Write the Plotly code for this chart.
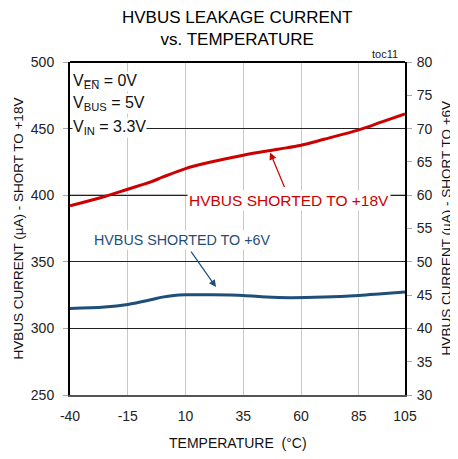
import plotly.graph_objects as go

temp = [-40, -25, -15, -5, 0, 10, 20, 35, 50, 60, 70, 85, 95, 105]
i18 = [392, 399, 404.5, 410, 413.5, 420, 424.5, 430, 434.5, 437.5, 442, 449, 455, 461]
temp6 = [-40, -25, -15, -5, 0, 5, 10, 20, 35, 45, 55, 70, 85, 95, 105]
i6 = [43.0, 43.2, 43.6, 44.3, 44.7, 44.95, 45.05, 45.05, 44.95, 44.7, 44.6, 44.7, 44.95, 45.2, 45.45]

xticks = [-40, -15, 10, 35, 60, 85, 105]
font = "Liberation Sans Narrow, Liberation Sans, Arial, sans-serif"
red = "#cc0000"
blue = "#1f4e79"

fig = go.Figure()
fig.add_trace(go.Scatter(x=temp, y=i18, mode="lines", line=dict(color=red, width=3, shape="spline"), yaxis="y"))
fig.add_trace(go.Scatter(x=temp6, y=i6, mode="lines", line=dict(color=blue, width=3, shape="spline"), yaxis="y2"))

fig.update_layout(
    width=458, height=459,
    margin=dict(l=62, r=61, t=54, b=72),
    paper_bgcolor="white", plot_bgcolor="white",
    showlegend=False,
    font=dict(family=font, color="#222", size=14),
    xaxis=dict(range=[-40, 105], tickvals=xticks, ticktext=[str(v) for v in xticks],
               showgrid=True, gridcolor="#c8c8c8", gridwidth=1, zeroline=False,
               showline=True, linecolor="#555", linewidth=2, mirror=False,
               ticks="outside", ticklen=7, tickcolor="rgba(0,0,0,0)"),
    yaxis=dict(range=[250, 500], dtick=50, showgrid=True, gridcolor="#222", gridwidth=1, zeroline=False,
               showline=True, linecolor="#000", linewidth=2, ticks="outside", ticklen=5, tickcolor="#aaa",
               ticklabelstandoff=6),
    yaxis2=dict(range=[30, 80], dtick=5, overlaying="y", side="right", showgrid=False, zeroline=False,
                showline=True, linecolor="#000", linewidth=2, ticks="outside", ticklen=5, tickcolor="#aaa",
                ticklabelstandoff=2),
)
# top border
fig.add_shape(type="line", xref="paper", yref="paper", x0=0, x1=1, y0=1, y1=1, line=dict(color="#000", width=2))
# 400 gridline is lighter in reference
fig.add_shape(type="line", xref="paper", yref="y", x0=0, x1=1, y0=400, y1=400, layer="below",
              line=dict(color="#777", width=1.5))

# title
fig.add_annotation(xref="paper", yref="paper", x=0.5, y=1.1006, xanchor="center", yanchor="middle",
                   text="HVBUS LEAKAGE CURRENT<br>vs. TEMPERATURE", showarrow=False,
                   font=dict(size=17, color="#000"))
# axis titles
fig.add_annotation(xref="paper", yref="paper", x=0.5, y=-0.144, xanchor="center", yanchor="middle",
                   text="TEMPERATURE  (°C)", showarrow=False, font=dict(size=14, color="#111"))
fig.add_annotation(xref="paper", yref="paper", x=-0.155, y=0.5, xanchor="center", yanchor="middle",
                   textangle=-90, text="HVBUS CURRENT (µA) - SHORT TO +18V", showarrow=False,
                   font=dict(size=13.5, color="#111"))
fig.add_annotation(xref="paper", yref="paper", x=1.125, y=0.5, xanchor="center", yanchor="middle",
                   textangle=-90, text="HVBUS CURRENT (µA) - SHORT TO +6V", showarrow=False,
                   font=dict(size=13.5, color="#111"))

# conditions
cond = ["V<sub>E̅N̅</sub> = 0V", "V<sub>BUS</sub> = 5V", "V<sub>IN</sub> = 3.3V"]
cond_y = [485, 468.5, 450.5]
for t, yv in zip(cond, cond_y):
    fig.add_annotation(xref="paper", yref="y", x=0.006, y=yv, xanchor="left", yanchor="middle",
                       text=t, showarrow=False, font=dict(size=16, color="#111"), bgcolor="white",
                       borderpad=0)
fig.add_annotation(xref="paper", yref="paper", x=0.985, y=1.0, xanchor="right", yanchor="bottom",
                   text="toc11", showarrow=False, font=dict(size=11, color="#222"))

fig.add_annotation(x=54.8, y=396.4, xref="x", yref="y", text="HVBUS SHORTED TO +18V", showarrow=False,
                   font=dict(size=15.5, color=red), bgcolor="white")
fig.add_annotation(x=46.6, y=432, xref="x", yref="y", ax=15, ay=36, text="", showarrow=True,
                   arrowhead=2, arrowsize=1.2, arrowwidth=1.2, arrowcolor=red)
fig.add_annotation(x=8.5, y=366.4, xref="x", yref="y", text="HVBUS SHORTED TO +6V", showarrow=False,
                   font=dict(size=14.3, color=blue), bgcolor="white")
fig.add_annotation(x=23.2, y=331, xref="x", yref="y", ax=-26, ay=-37, text="", showarrow=True,
                   arrowhead=2, arrowsize=1.2, arrowwidth=1.2, arrowcolor=blue)

fig.write_html("out.html")
